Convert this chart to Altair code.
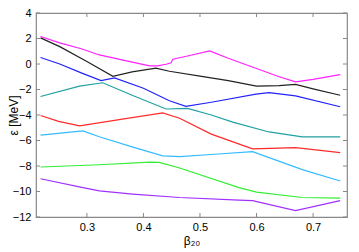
import altair as alt
import pandas as pd

x_ticks = [0.3, 0.4, 0.5, 0.6, 0.7]
y_ticks = [-12, -10, -8, -6, -4, -2, 0, 2, 4]

series_names = ["magenta", "black", "blue", "teal", "red", "cyan", "green", "purple"]
series_colors = ["#ff22ff", "#222222", "#2222ff", "#20a0a0", "#ff2a2a", "#33bbff", "#33ee33", "#a030ff"]

magenta_x = [0.218, 0.252, 0.29, 0.322, 0.37, 0.411, 0.425, 0.440, 0.449, 0.452, 0.48, 0.517, 0.55, 0.60, 0.64, 0.669, 0.70, 0.748]
magenta_y = [2.16, 1.66, 1.2, 0.71, 0.25, -0.14, -0.14, -0.02, 0.1, 0.38, 0.65, 1.02, 0.45, -0.35, -1.0, -1.4, -1.2, -0.83]

black_x = [0.218, 0.252, 0.30, 0.346, 0.38, 0.422, 0.446, 0.50, 0.55, 0.60, 0.64, 0.669, 0.70, 0.748]
black_y = [2.05, 1.36, 0.2, -0.96, -0.62, -0.32, -0.57, -0.95, -1.3, -1.73, -1.7, -1.6, -1.95, -2.45]

blue_x = [0.218, 0.252, 0.29, 0.325, 0.349, 0.40, 0.446, 0.475, 0.52, 0.599, 0.622, 0.669, 0.748]
blue_y = [0.51, 0.0, -0.7, -1.3, -1.09, -1.9, -2.88, -3.32, -3.0, -2.37, -2.24, -2.5, -3.35]

teal_x = [0.218, 0.287, 0.328, 0.38, 0.44, 0.478, 0.52, 0.558, 0.622, 0.681, 0.748]
teal_y = [-2.55, -1.73, -1.47, -2.45, -3.53, -3.48, -4.0, -4.56, -5.33, -5.71, -5.71]

red_x = [0.218, 0.25, 0.287, 0.36, 0.434, 0.464, 0.52, 0.593, 0.669, 0.748]
red_y = [-4.04, -4.5, -4.85, -4.35, -3.84, -4.25, -5.5, -6.66, -6.56, -6.95]

cyan_x = [0.218, 0.293, 0.322, 0.38, 0.434, 0.464, 0.52, 0.593, 0.681, 0.748]
cyan_y = [-5.58, -5.25, -5.71, -6.5, -7.2, -7.26, -7.1, -6.87, -8.28, -9.18]

green_x = [0.218, 0.322, 0.411, 0.428, 0.464, 0.569, 0.60, 0.681, 0.748]
green_y = [-8.08, -7.9, -7.69, -7.72, -8.16, -9.7, -10.05, -10.47, -10.52]

purple_x = [0.218, 0.293, 0.322, 0.381, 0.464, 0.569, 0.593, 0.669, 0.748]
purple_y = [-9.0, -9.7, -9.95, -10.2, -10.47, -10.67, -10.72, -11.5, -10.72]

all_x = [magenta_x, black_x, blue_x, teal_x, red_x, cyan_x, green_x, purple_x]
all_y = [magenta_y, black_y, blue_y, teal_y, red_y, cyan_y, green_y, purple_y]

rows = []
for name, xs_, ys_ in zip(series_names, all_x, all_y):
    for i, (a, b) in enumerate(zip(xs_, ys_)):
        rows.append({"series": name, "beta": a, "eps": b, "order": i})
df = pd.DataFrame(rows)

W, H = 311, 204
FONT = "Liberation Sans"
xscale = alt.Scale(domain=[0.21, 0.76], nice=False, zero=False)
yscale = alt.Scale(domain=[-12, 4], nice=False, zero=False)

x_axis = alt.Axis(values=x_ticks, format=".1f", title="β₂₀", grid=False, domain=False,
                  ticks=False, labelPadding=4, labelFont=FONT, labelFontSize=11,
                  labelColor="#000", titleFont=FONT, titleFontSize=12,
                  titleFontWeight="normal", titleColor="#000", titlePadding=3)
y_axis = alt.Axis(values=y_ticks, title="ε [MeV]", grid=False, domain=False,
                  ticks=False, labelPadding=5, labelFont=FONT, labelFontSize=11,
                  labelColor="#000", titleFont=FONT, titleFontSize=12,
                  titleFontWeight="normal", titleColor="#000",
                  titleX=-23, titleY=H / 2, titleAlign="center", titleBaseline="middle")

lines = alt.Chart(df).mark_line(strokeWidth=1.2, clip=True).encode(
    x=alt.X("beta:Q", scale=xscale, axis=x_axis, title="β₂₀"),
    y=alt.Y("eps:Q", scale=yscale, axis=y_axis, title="ε [MeV]"),
    color=alt.Color("series:N", scale=alt.Scale(domain=series_names, range=series_colors), legend=None),
    order="order:Q",
)

xt = pd.DataFrame({"beta": x_ticks})
yt = pd.DataFrame({"eps": y_ticks})
tick_color = "#888888"

bottom_ticks = alt.Chart(xt).mark_rule(color=tick_color).encode(
    x=alt.X("beta:Q", scale=xscale, axis=x_axis, title="β₂₀"), y=alt.value(H), y2=alt.value(H - 4))
top_ticks = alt.Chart(xt).mark_rule(color=tick_color).encode(
    x=alt.X("beta:Q", scale=xscale, axis=x_axis, title="β₂₀"), y=alt.value(0), y2=alt.value(4))
left_ticks = alt.Chart(yt).mark_rule(color=tick_color).encode(
    y=alt.Y("eps:Q", scale=yscale, axis=y_axis, title="ε [MeV]"), x=alt.value(0), x2=alt.value(4))
right_ticks = alt.Chart(yt).mark_rule(color=tick_color).encode(
    y=alt.Y("eps:Q", scale=yscale, axis=y_axis, title="ε [MeV]"), x=alt.value(W), x2=alt.value(W - 4))

chart = alt.layer(lines, bottom_ticks, top_ticks, left_ticks, right_ticks).properties(
    width=W, height=H,
    autosize=alt.AutoSizeParams(type="none"),
    padding={"left": 28, "top": 5, "right": 4, "bottom": 35},
    background="white",
).configure_view(stroke="#888888", strokeWidth=1.2)

chart.save("out.html", embed_options={"renderer": "svg", "actions": False})
